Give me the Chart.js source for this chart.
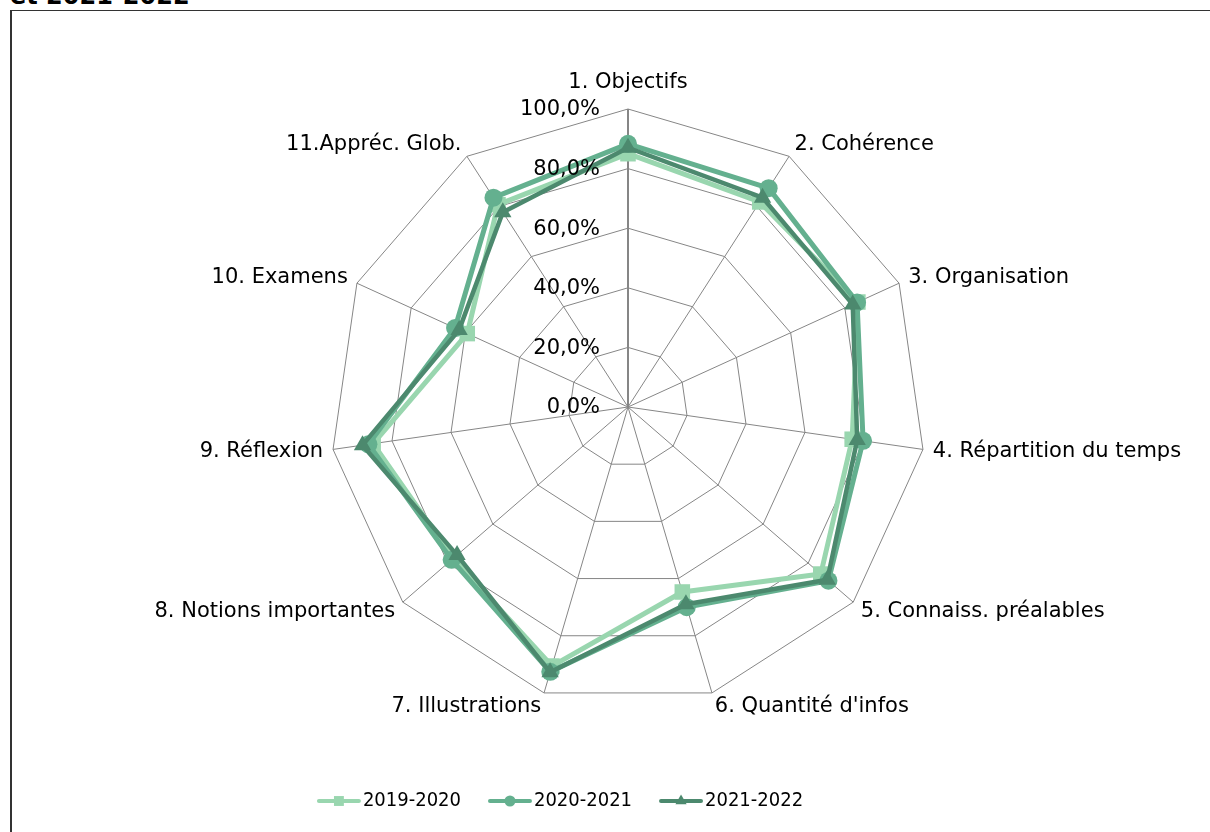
<!DOCTYPE html>
<html>
<head>
<meta charset="utf-8">
<script src="https://cdn.jsdelivr.net/npm/chart.js@4.4.0/dist/chart.umd.min.js"></script>
<style>
    html, body { margin: 0; padding: 0; background: #fff; overflow: hidden; }
    #frame { position: absolute; left: 10px; top: 10px; width: 1300px; height: 900px;
             border-left: 2px solid #333; border-top: 1px solid #333; }
    #title { position: absolute; left: 10px; top: -18px; font: bold 24px "DejaVu Sans";
             color: #000; white-space: nowrap; }
    #chart { position: absolute; left: 0; top: 0; }
</style>
</head>
<body>
<div id="frame"></div>
<div id="title">et 2021-2022</div>
<canvas id="chart" width="1210" height="832"></canvas>
<script>
'use strict';

// Data
const categories = ['1. Objectifs', '2. Cohérence', '3. Organisation', '4. Répartition du temps',
    '5. Connaiss. préalables', "6. Quantité d'infos", '7. Illustrations', '8. Notions importantes',
    '9. Réflexion', '10. Examens', '11.Appréc. Glob.'];
const years = ['2019-2020', '2020-2021', '2021-2022'];
const values2019 = [85, 81.8, 84.8, 76, 85.6, 64.7, 90.6, 77.6, 86.4, 59.3, 80.7];
const values2020 = [88.3, 87.3, 84.5, 79.7, 89, 70, 92.6, 78.3, 88, 63.8, 83.5];
const values2021 = [87, 83.5, 82.9, 77.7, 88.5, 69, 92.8, 75.9, 90, 62.3, 77.7];
const tickValues = [0, 20, 40, 60, 80, 100];
const tickLabels = ['0,0%', '20,0%', '40,0%', '60,0%', '80,0%', '100,0%'];

// Styles
const colors = ['rgb(153,214,175)', 'rgb(100,176,143)', 'rgb(76,137,110)'];
const pointStyles = ['rect', 'circle', 'triangle'];
const pointRadii = [11, 9, 10];
const legendRadii = [7, 5.5, 6.5];
const labelFont = '21px "DejaVu Sans"';
const legendFamily = '"DejaVu Sans Condensed", "DejaVu Sans"';

/**
 * Tick labels, category labels and legend samples
 */
const radarText = {
    id: 'radarText',
    afterDraw(chart) {
        const ctx = chart.ctx;
        const r = chart.scales.r;
        ctx.save();
        ctx.font = labelFont;
        ctx.fillStyle = '#000';

        // Tick labels, left of the first axis
        ctx.textAlign = 'right';
        ctx.textBaseline = 'middle';
        tickValues.forEach(function(v, i) {
            const d = r.getDistanceFromCenterForValue(v);
            ctx.fillText(tickLabels[i], r.xCenter - 28, r.yCenter - d + 1);
        });

        // Category labels
        categories.forEach(function(c, i) {
            const a = r.getIndexAngle(i);
            const deg = Math.round(a * 180 / Math.PI);
            if (deg === 0) {
                const p = r.getPointPosition(i, r.drawingArea + 16);
                ctx.textAlign = 'center';
                ctx.textBaseline = 'bottom';
                ctx.fillText(c, p.x, p.y);
            } else {
                const p = r.getPointPosition(i, r.drawingArea + 10);
                ctx.textAlign = deg < 180 ? 'left' : 'right';
                ctx.textBaseline = 'middle';
                ctx.fillText(c, p.x, p.y - 4 * Math.cos(a));
            }
        });

        // Legend line + marker samples
        const boxes = chart.legend.legendHitBoxes || [];
        boxes.forEach(function(b, i) {
            const y = b.top + b.height / 2;
            ctx.strokeStyle = colors[i];
            ctx.fillStyle = colors[i];
            ctx.lineWidth = 4;
            ctx.lineCap = 'round';
            ctx.beginPath();
            ctx.moveTo(b.left + 2, y);
            ctx.lineTo(b.left + 42, y);
            ctx.stroke();
            Chart.helpers.drawPoint(ctx, {
                pointStyle: pointStyles[i], radius: legendRadii[i], rotation: 0, borderWidth: 0
            }, b.left + 22, y);
        });
        ctx.restore();
    }
};

const seriesValues = [values2019, values2020, values2021];
const datasets = years.map(function(y, i) {
    return {
        label: y,
        data: seriesValues[i],
        borderColor: colors[i],
        backgroundColor: colors[i],
        borderWidth: i === 2 ? 4.5 : 5,
        borderJoinStyle: 'round',
        pointStyle: pointStyles[i],
        pointRadius: pointRadii[i],
        pointBackgroundColor: colors[i],
        pointBorderColor: colors[i],
        pointBorderWidth: 0,
        fill: false,
        tension: 0,
        order: 3 - i
    };
});

new Chart(document.getElementById('chart'), {
    type: 'radar',
    data: {
        labels: categories,
        datasets: datasets
    },
    options: {
        responsive: false,
        animation: false,
        events: [],
        layout: {
            padding: { left: 0, right: 90, top: 0, bottom: 11 }
        },
        scales: {
            r: {
                min: 0,
                max: 100,
                ticks: { stepSize: 20, display: false },
                grid: { color: 'rgb(134,134,134)', lineWidth: 1 },
                angleLines: {
                    color: 'rgb(134,134,134)',
                    lineWidth: function(ctx) { return ctx.index === 0 ? 2 : 1; }
                },
                pointLabels: { display: false },
                afterFit: function(scale) {
                    scale.xCenter = 628;
                    scale.yCenter = 407;
                    scale.drawingArea = 298;
                }
            }
        },
        plugins: {
            tooltip: { enabled: false },
            legend: {
                position: 'bottom',
                labels: {
                    color: '#000',
                    font: { size: 20, family: legendFamily },
                    boxWidth: 36,
                    boxHeight: 4,
                    padding: 27,
                    generateLabels: function(chart) {
                        return chart.data.datasets.map(function(ds, i) {
                            return {
                                text: ds.label,
                                fillStyle: 'rgba(0,0,0,0)',
                                strokeStyle: 'rgba(0,0,0,0)',
                                lineWidth: 0,
                                hidden: false,
                                datasetIndex: i,
                                fontColor: '#000'
                            };
                        });
                    }
                }
            }
        }
    },
    plugins: [radarText]
});
</script>
</body>
</html>
